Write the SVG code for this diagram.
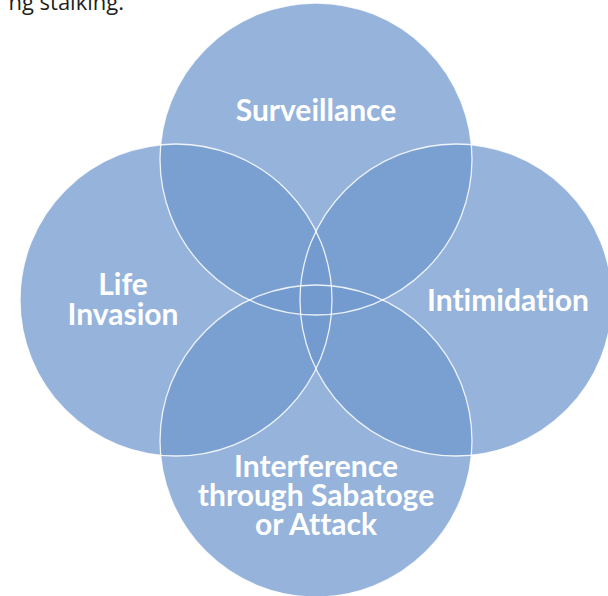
<svg xmlns="http://www.w3.org/2000/svg" width="608" height="596" viewBox="0 0 608 596">
<style>
.fill{fill:#729acf;fill-opacity:0.75;stroke:none}
.ring{fill:none;stroke:#ffffff;stroke-width:1.3;stroke-opacity:0.85}
.lbl{font-family:Lato,"Open Sans","Liberation Sans",sans-serif;font-weight:700;font-size:30px;fill:#ffffff;text-anchor:middle;font-variant-ligatures:none;font-feature-settings:"liga" 0,"dlig" 0}
.cap{font-family:"Open Sans","Liberation Sans",sans-serif;font-size:22px;fill:#231f20;text-anchor:end}
</style>
<rect width="608" height="596" fill="#ffffff"/>
<text class="cap" x="124" y="9.5">ng stalking.</text>
<g id="fills">
<circle class="fill" cx="316" cy="159" r="156"/>
<circle class="fill" cx="456" cy="300" r="156"/>
<circle class="fill" cx="316" cy="441" r="156"/>
<circle class="fill" cx="176" cy="300" r="156"/>
</g>
<g id="outlines">
<circle class="ring" cx="316" cy="159" r="156"/>
<circle class="ring" cx="456" cy="300" r="156"/>
<circle class="ring" cx="316" cy="441" r="156"/>
<circle class="ring" cx="176" cy="300" r="156"/>
</g>
<g id="surveillance"><text class="lbl" x="316" y="121">Surveillance</text></g>
<g id="intimidation"><text class="lbl" x="508" y="311">Intimidation</text></g>
<g id="life-invasion"><text class="lbl" x="123" y="295">Life</text><text class="lbl" x="123" y="325">Invasion</text></g>
<g id="interference"><text class="lbl" x="316" y="477">Interference</text><text class="lbl" x="316" y="506">through Sabatoge</text><text class="lbl" x="316" y="535">or Attack</text></g>
<g id="connectors"/>
</svg>
